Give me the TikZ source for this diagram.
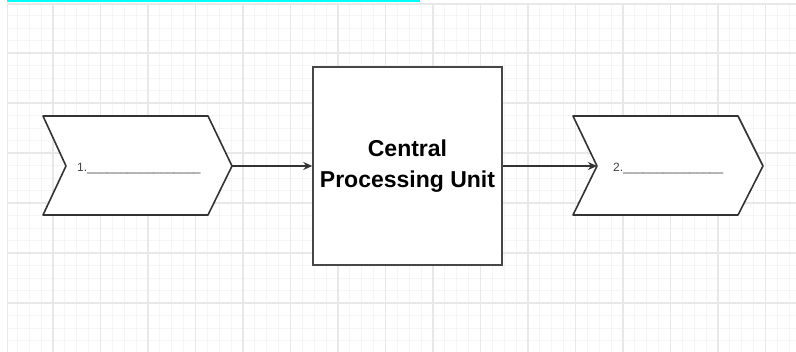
\documentclass[tikz,border=0pt]{standalone}
\usepackage{fontspec}
\setmainfont{Liberation Sans}
\usetikzlibrary{arrows.meta}
\definecolor{gridminor}{HTML}{F5F5F5}
\definecolor{gridmajor}{HTML}{E8E8E8}
\definecolor{strokegray}{HTML}{333333}
\definecolor{blankgray}{HTML}{444444}
\definecolor{topcyan}{HTML}{00FFFF}
\tikzset{
  chev/.style={draw=strokegray, line width=1.6pt, fill=white, line join=round},
  cpubox/.style={draw=strokegray!90, line width=1.4pt, fill=white, minimum width=189pt, minimum height=198pt, inner sep=0pt, align=center, font=\fontsize{23}{31}\selectfont\bfseries},
  blank/.style={anchor=base west, inner sep=0pt, text=blankgray, font=\fontsize{12}{14}\selectfont},
  conn/.style={draw=strokegray, line width=1.9pt, -{Stealth[length=9pt,width=8pt]}}
}
\begin{document}
\begin{tikzpicture}[x=1pt,y=-1pt]
\useasboundingbox (0,0) rectangle (796,352);
\fill[white] (0,0) rectangle (796,352);
% grid
\begin{scope}
\clip (7,4) rectangle (796,352);
\foreach \i in {0,...,67} {
  \draw[gridminor, line width=0.8pt] ({5.5+11.875*\i},4) -- ({5.5+11.875*\i},352);
}
\foreach \j in {0,...,28} {
  \draw[gridminor, line width=0.8pt] (7,{3+12.5*\j}) -- (796,{3+12.5*\j});
}
\foreach \i in {0,...,17} {
  \draw[gridmajor, line width=1.2pt] ({5.5+47.5*\i},4) -- ({5.5+47.5*\i},352);
}
\foreach \j in {0,...,7} {
  \draw[gridmajor, line width=1.2pt] (7,{3+50*\j}) -- (796,{3+50*\j});
}
\end{scope}
\draw[gridmajor, line width=1.2pt] (7.5,4) -- (7.5,352);
\draw[gridmajor, line width=1.2pt] (7,4.5) -- (796,4.5);
\fill[topcyan] (7,0) rectangle (420,1.6);
% chevron 1
\draw[chev] (43,116) -- (208,116) -- (232,166) -- (208,215) -- (43,215) -- (66,166) -- cycle;
\coordinate (c1tip) at (232,166);
\node[blank] (lbl1) at (77,172) {1.\_\_\_\_\_\_\_\_\_\_\_\_\_\_\_\_\_};
% chevron 2
\draw[chev] (573,116) -- (738,116) -- (763,166) -- (738,215) -- (573,215) -- (597,166) -- cycle;
\coordinate (c2notch) at (597,166);
\node[blank] (lbl2) at (613,172) {2.\_\_\_\_\_\_\_\_\_\_\_\_\_\_\_};
% CPU box
\node[cpubox] (cpu) at (407.5,166) {Central\\Processing Unit};
% connectors
\draw[conn] (c1tip) -- (cpu.west);
\draw[conn] (cpu.east) -- (c2notch);
\end{tikzpicture}
\end{document}
